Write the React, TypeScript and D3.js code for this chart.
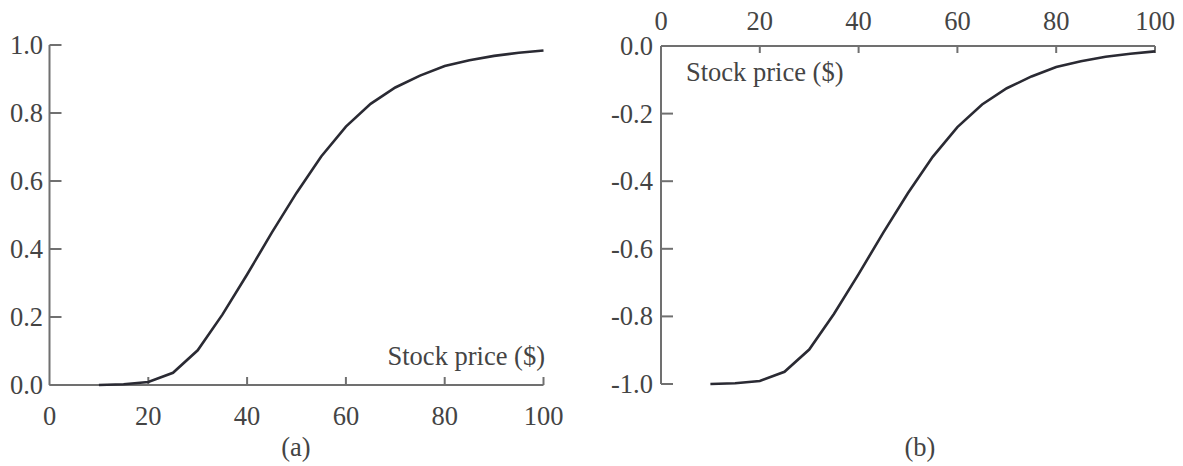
import React from "react";
import * as d3 from "d3";

const stockPrices = [10, 15, 20, 25, 30, 35, 40, 45, 50, 55, 60, 65, 70, 75, 80, 85, 90, 95, 100];
const callDelta = [0.0, 0.002, 0.009, 0.036, 0.102, 0.207, 0.325, 0.448, 0.565, 0.672, 0.76, 0.827, 0.875, 0.91, 0.938, 0.955, 0.968, 0.977, 0.984];
const putDelta = [-1.0, -0.998, -0.991, -0.964, -0.898, -0.793, -0.675, -0.552, -0.435, -0.328, -0.24, -0.173, -0.125, -0.09, -0.062, -0.045, -0.032, -0.023, -0.016];
const xTicks = [0, 20, 40, 60, 80, 100];
const yTicksA = [0, 0.2, 0.4, 0.6, 0.8, 1.0];
const yTicksB = [0, -0.2, -0.4, -0.6, -0.8, -1.0];
const xLabel = "Stock price ($)";
const panelLabels = ["(a)", "(b)"];

const FONT = "'Liberation Serif', 'Times New Roman', serif";
const FS = 26.5;
const AXIS = "#707070";
const TEXT = "#444444";
const CURVE = "#2a2a33";

const fmt = (v: number) => {
  const s = Math.abs(v).toFixed(1);
  return v < 0 ? "-" + s : s;
};

export default function App() {
  // Panel (a)
  const xA = d3.scaleLinear().domain([0, 100]).range([49.5, 543.5]);
  const yA = d3.scaleLinear().domain([0, 1]).range([385, 45]);
  const lineA = d3
    .line<number>()
    .x((_, i) => xA(stockPrices[i]))
    .y((d) => yA(d))
    .curve(d3.curveLinear);

  // Panel (b)
  const xB = d3.scaleLinear().domain([0, 100]).range([661, 1155]);
  const yB = d3.scaleLinear().domain([-1, 0]).range([384, 46]);
  const lineB = d3
    .line<number>()
    .x((_, i) => xB(stockPrices[i]))
    .y((d) => yB(d))
    .curve(d3.curveLinear);

  return (
    <svg
      width={1183}
      height={466}
      style={{ position: "absolute", left: 0, top: 0, background: "#fff" }}
      fontFamily={FONT}
      fontSize={FS}
    >
      <rect x={0} y={0} width={1183} height={466} fill="#fff" />
      {/* Panel (a) */}
      <g>
        <line x1={xA(0)} x2={xA(100)} y1={yA(0)} y2={yA(0)} stroke={AXIS} strokeWidth={2} />
        <line x1={xA(0)} x2={xA(0)} y1={yA(0)} y2={yA(1)} stroke={AXIS} strokeWidth={2} />
        {xTicks.filter((t) => t > 0).map((t) => (
          <line key={"xa" + t} x1={xA(t)} x2={xA(t)} y1={yA(0)} y2={yA(0) - 8} stroke={AXIS} strokeWidth={2} />
        ))}
        {xTicks.map((t) => (
          <text key={"xla" + t} x={xA(t)} y={425} textAnchor="middle" fill={TEXT}>
            {t}
          </text>
        ))}
        {yTicksA.map((t) => (
          <g key={"ya" + t}>
            <line x1={xA(0)} x2={xA(0) + 12} y1={yA(t)} y2={yA(t)} stroke={AXIS} strokeWidth={2} />
            <text x={43} y={yA(t) + 9} textAnchor="end" fill={TEXT}>
              {fmt(t)}
            </text>
          </g>
        ))}
        <path d={lineA(callDelta) || ""} fill="none" stroke={CURVE} strokeWidth={2.6} />
        <text x={545} y={365} textAnchor="end" fill={TEXT}>
          {xLabel}
        </text>
        <text x={296} y={456} textAnchor="middle" fill={TEXT}>
          {panelLabels[0]}
        </text>
      </g>
      {/* Panel (b) */}
      <g>
        <line x1={xB(0)} x2={xB(100)} y1={yB(0)} y2={yB(0)} stroke={AXIS} strokeWidth={2} />
        <line x1={xB(0)} x2={xB(0)} y1={yB(0)} y2={yB(-1)} stroke={AXIS} strokeWidth={2} />
        {xTicks.filter((t) => t > 0).map((t) => (
          <line key={"xb" + t} x1={xB(t)} x2={xB(t)} y1={yB(0)} y2={yB(0) + 7} stroke={AXIS} strokeWidth={2} />
        ))}
        {xTicks.map((t) => (
          <text key={"xlb" + t} x={xB(t)} y={30} textAnchor="middle" fill={TEXT}>
            {t}
          </text>
        ))}
        {yTicksB.map((t) => (
          <g key={"yb" + t}>
            <line x1={xB(0)} x2={xB(0) + 12} y1={yB(t)} y2={yB(t)} stroke={AXIS} strokeWidth={2} />
            <text x={653} y={yB(t) + 9} textAnchor="end" fill={TEXT}>
              {fmt(t)}
            </text>
          </g>
        ))}
        <path d={lineB(putDelta) || ""} fill="none" stroke={CURVE} strokeWidth={2.6} />
        <text x={686} y={81} textAnchor="start" fill={TEXT}>
          {xLabel}
        </text>
        <text x={920} y={456} textAnchor="middle" fill={TEXT}>
          {panelLabels[1]}
        </text>
      </g>
    </svg>
  );
}
